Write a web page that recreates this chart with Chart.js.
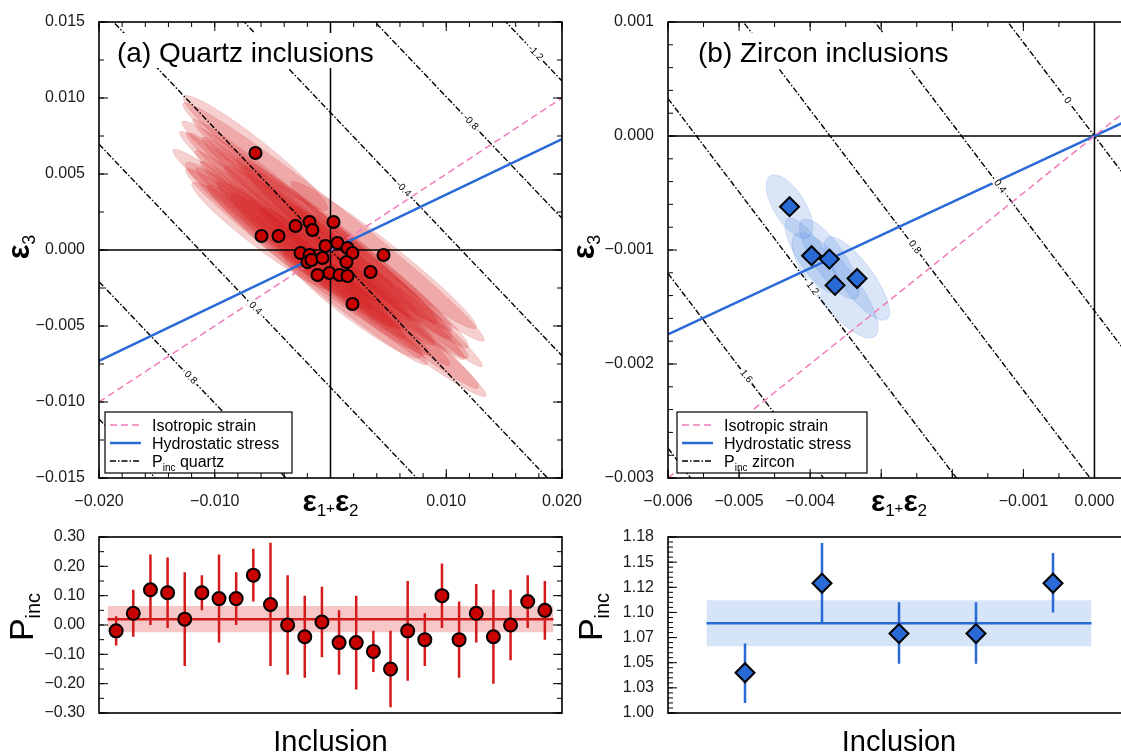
<!DOCTYPE html>
<html>
<head>
<meta charset="utf-8">
<title>Pinc quartz and zircon inclusions</title>
<script src="https://cdn.jsdelivr.net/npm/chart.js@4.4.1/dist/chart.umd.min.js"></script>
<style>
  html, body { margin: 0; padding: 0; background: #fff; width: 1121px; height: 755px; overflow: hidden; }
  .box { position: absolute; }
</style>
</head>
<body>
<div class="box" style="left:0px;top:0px"><canvas id="qzStrain" width="600" height="525"></canvas></div>
<div class="box" style="left:560px;top:0px"><canvas id="zrStrain" width="620" height="525"></canvas></div>
<div class="box" style="left:0px;top:520px"><canvas id="qzP" width="600" height="235"></canvas></div>
<div class="box" style="left:560px;top:520px"><canvas id="zrP" width="620" height="235"></canvas></div>

<script>
var FONT = '"Liberation Sans", Arial, Helvetica, sans-serif';
var MINUS = '\u2212';
var PINK = '#f07cbc';
var BLUE = '#2a6ad6';
var RED = '#c80000';

// ---- (a) quartz inclusions: strain of each inclusion ----
var qzE12 = [-0.00648, -0.00596, -0.00449, -0.00302, -0.00181, -0.00156, 0.00026, -0.00043, 0.00060, 0.00147, 0.00190, 0.00458,
             -0.00259, -0.00181, -0.00199, -0.00164, -0.00069, 0.00138, -0.00112, -0.00009, 0.00078, 0.00147, 0.00346, 0.00190];
var qzE3  = [0.00638, 0.00092, 0.00092, 0.00158, 0.00184, 0.00132, 0.00184, 0.00026, 0.00046, 0.00013, -0.00020, -0.00033,
             -0.00020, -0.00033, -0.00079, -0.00066, -0.00053, -0.00079, -0.00164, -0.00151, -0.00164, -0.00171, -0.00145, -0.00355];
// uncertainty ellipses: half length (along e1+e2), slope of the long axis, vertical half width
var qzEllLen = [0.0062, 0.0060, 0.0080, 0.0100, 0.0110, 0.0095, 0.0130, 0.0120, 0.0125, 0.0090, 0.0100, 0.0080,
                0.0090, 0.0080, 0.0105, 0.0070, 0.0110, 0.0105, 0.0095, 0.0135, 0.0120, 0.0075, 0.0070, 0.0060];
var qzEllSlope = [-0.60, -0.58, -0.60, -0.62, -0.60, -0.64, -0.60, -0.62, -0.65, -0.60, -0.62, -0.60,
                  -0.62, -0.60, -0.58, -0.62, -0.64, -0.60, -0.62, -0.60, -0.62, -0.60, -0.62, -0.58];
var qzEllHw = [0.0011, 0.0010, 0.0012, 0.0011, 0.0012, 0.0010, 0.0013, 0.0012, 0.0011, 0.0010, 0.0012, 0.0011,
               0.0010, 0.0011, 0.0012, 0.0010, 0.0011, 0.0012, 0.0011, 0.0013, 0.0012, 0.0010, 0.0011, 0.0012];
// Pinc isolines (GPa), where each crosses e3 = 0, and where its label sits
var qzLevels = [-1.2, -0.8, -0.4, 0, 0.4, 0.8, 1.2];
var qzLevelCross = [0.0339, 0.0226, 0.0113, 0, -0.0113, -0.0226, -0.0339];
var qzLevelLabelAt = [0.0177, 0.0121, 0.0063, null, -0.0065, -0.0121, null];
var qzContourSlope = -0.8;
var qzIsoSlope = 0.5;
var qzHydroSlope = 0.365;
var qzXTicks = [-0.020, -0.010, 0.010, 0.020];
var qzYTicks = [0.015, 0.010, 0.005, 0.000, -0.005, -0.010, -0.015];

// ---- (b) zircon inclusions ----
var zrE12 = [-0.00429, -0.00398, -0.00373, -0.00365, -0.00334];
var zrE3  = [-0.00062, -0.00105, -0.00108, -0.00131, -0.00125];
var zrEllLen = [0.00027, 0.00034, 0.00038, 0.00056, 0.00042];
var zrEllSlope = [-1.00, -0.95, -0.90, -0.80, -0.85];
var zrEllHw = [0.00026, 0.00022, 0.00024, 0.00030, 0.00024];
var zrLevels = [0, 0.4, 0.8, 1.2, 1.6, 2.0];
var zrLevelCross = [0, -0.00187, -0.00372, -0.00560, -0.00747, -0.00934];
var zrLevelLabelAt = [-0.00038, -0.00133, -0.00253, -0.00397, -0.00490, null];
var zrContourSlope = -0.82;
var zrIsoSlope = 0.5;
var zrHydroSlope = 0.29;
var zrXTicks = [-0.006, -0.005, -0.004, -0.001, 0.000];
var zrYTicks = [0.001, 0.000, -0.001, -0.002, -0.003];

// ---- Pinc per inclusion ----
var qzIncl = [1, 2, 3, 4, 5, 6, 7, 8, 9, 10, 11, 12, 13, 14, 15, 16, 17, 18, 19, 20, 21, 22, 23, 24, 25, 26];
var qzPinc = [-0.02, 0.04, 0.12, 0.11, 0.02, 0.11, 0.09, 0.09, 0.17, 0.07, 0.00, -0.04, 0.01,
              -0.06, -0.06, -0.09, -0.15, -0.02, -0.05, 0.10, -0.05, 0.04, -0.04, 0.00, 0.08, 0.05];
var qzPhi  = [0.03, 0.12, 0.24, 0.23, 0.18, 0.17, 0.24, 0.18, 0.26, 0.28, 0.17, 0.10, 0.13,
              0.05, 0.10, -0.02, -0.02, 0.15, 0.04, 0.21, 0.08, 0.14, 0.12, 0.12, 0.17, 0.15];
var qzPlo  = [-0.07, -0.04, 0.00, -0.01, -0.14, 0.05, -0.06, 0.00, 0.08, -0.14, -0.17, -0.18, -0.11,
              -0.17, -0.22, -0.16, -0.28, -0.19, -0.14, -0.01, -0.18, -0.06, -0.20, -0.12, -0.01, -0.05];
var qzMean = [0.020, -0.025, 0.065];   // mean, lower, upper
var qzPTicks = [0.30, 0.20, 0.10, 0.00, -0.10, -0.20, -0.30];

var zrIncl = [1, 2, 3, 4, 5];
var zrPinc = [1.040, 1.129, 1.079, 1.079, 1.129];
var zrPhi  = [1.069, 1.169, 1.110, 1.110, 1.159];
var zrPlo  = [1.010, 1.090, 1.049, 1.049, 1.100];
var zrMean = [1.0893, 1.0663, 1.1120];
var zrPTicks = [1.175, 1.150, 1.125, 1.100, 1.075, 1.050, 1.025, 1.000];
var zrPTickText = ['1.18', '1.15', '1.12', '1.10', '1.07', '1.05', '1.03', '1.00'];


Chart.defaults.font.family = FONT;
Chart.defaults.font.size = 16;
Chart.defaults.color = '#1a1a1a';

function fmt(v, d) {
  if (Math.abs(v) < 1e-12) v = 0;
  return (v < 0 ? MINUS : '') + Math.abs(v).toFixed(d);
}

// tick mark positions between a and b
function steps(a, b, step) {
  var out = [];
  var n = Math.round((b - a) / step);
  for (var i = 0; i <= n; i++) out.push(a + i * step);
  return out;
}

function lineSet(data, color, width, dash, order) {
  return { data: data, showLine: true, pointRadius: 0, borderColor: color, borderWidth: width,
           borderDash: dash, fill: false, order: order };
}

// text made of pieces (for subscripts)
function rich(ctx, x, y, pieces, align) {
  var w = 0;
  pieces.forEach(function(p) {
    ctx.font = (p.bold ? 'bold ' : '') + p.size + 'px ' + FONT;
    p.w = ctx.measureText(p.t).width;
    w += p.w;
  });
  var cx = align === 'left' ? x : x - w / 2;
  ctx.textAlign = 'left';
  ctx.textBaseline = 'alphabetic';
  pieces.forEach(function(p) {
    ctx.font = (p.bold ? 'bold ' : '') + p.size + 'px ' + FONT;
    ctx.fillText(p.t, cx, y + (p.dy || 0));
    cx += p.w;
  });
}

function drawLegend(ctx, bx, by, bw, bh, rows) {
  ctx.save();
  ctx.fillStyle = '#fff';
  ctx.fillRect(bx, by, bw, bh);
  ctx.strokeStyle = '#000';
  ctx.lineWidth = 1.2;
  ctx.strokeRect(bx, by, bw, bh);
  rows.forEach(function(r, i) {
    var y = by + 13 + i * 18;
    ctx.beginPath();
    ctx.strokeStyle = r.color;
    ctx.lineWidth = r.width;
    ctx.setLineDash(r.dash);
    ctx.moveTo(bx + 5, y);
    ctx.lineTo(bx + 36, y);
    ctx.stroke();
    ctx.setLineDash([]);
    ctx.fillStyle = '#000';
    rich(ctx, bx + 47, y + 6, r.text, 'left');
  });
  ctx.restore();
}

function decor(o) {
  return {
    id: 'decor',
    beforeDatasetsDraw: function(chart) {
      if (!o.ellipses) return;
      var ctx = chart.ctx, xs = chart.scales.x, ys = chart.scales.y, a = chart.chartArea;
      ctx.save();
      ctx.beginPath();
      ctx.rect(a.left, a.top, a.right - a.left, a.bottom - a.top);
      ctx.clip();
      var el = o.ellipses;
      for (var i = 0; i < el.x.length; i++) {
        var cx = xs.getPixelForValue(el.x[i]), cy = ys.getPixelForValue(el.y[i]);
        var tx = xs.getPixelForValue(el.x[i] + el.len[i]);
        var ty = ys.getPixelForValue(el.y[i] + el.slope[i] * el.len[i]);
        var ang = Math.atan2(ty - cy, tx - cx);
        var rx = Math.hypot(tx - cx, ty - cy);
        var ry = Math.abs(ys.getPixelForValue(el.y[i] + el.hw[i]) - cy) * Math.cos(ang);
        ctx.beginPath();
        ctx.ellipse(cx, cy, rx, ry, ang, 0, Math.PI * 2);
        ctx.fillStyle = el.fill;
        ctx.fill();
        ctx.strokeStyle = el.edge;
        ctx.lineWidth = 0.8;
        ctx.stroke();
      }
      ctx.restore();
    },
    afterDatasetsDraw: function(chart) {
      var ctx = chart.ctx, xs = chart.scales.x, ys = chart.scales.y, a = chart.chartArea;
      ctx.save();
      // isoline labels
      if (o.contours) {
        var c = o.contours;
        c.levels.forEach(function(lv, i) {
          var at = c.labelAt[i];
          if (at === null) return;
          var px = xs.getPixelForValue(at), py = ys.getPixelForValue(c.slope * (at - c.cross[i]));
          var qx = xs.getPixelForValue(at + 0.001), qy = ys.getPixelForValue(c.slope * (at + 0.001 - c.cross[i]));
          var ang = Math.atan2(qy - py, qx - px);
          var t = lv < 0 ? '-' + Math.abs(lv).toFixed(1) : (lv === 0 ? '0' : lv.toFixed(1));
          ctx.save();
          ctx.translate(px, py);
          ctx.rotate(ang);
          ctx.font = '10px ' + FONT;
          var w = ctx.measureText(t).width;
          ctx.fillStyle = '#fff';
          ctx.fillRect(-w / 2 - 2, -4, w + 4, 8);
          ctx.fillStyle = '#000';
          ctx.textAlign = 'center';
          ctx.textBaseline = 'middle';
          ctx.fillText(t, 0, 0);
          ctx.restore();
        });
      }
      // panel title on a white patch
      if (o.title) {
        ctx.fillStyle = '#fff';
        ctx.fillRect(a.left + o.title.box[0], a.top + 11, o.title.box[1], 35);
        ctx.fillStyle = '#000';
        ctx.font = '28px ' + FONT;
        ctx.textAlign = 'left';
        ctx.textBaseline = 'alphabetic';
        ctx.fillText(o.title.text, a.left + o.title.dx, a.top + 40);
      }
      if (o.legend) {
        drawLegend(ctx, a.left + o.legend.dx, a.bottom - 66, o.legend.w, 61, o.legend.rows);
      }
      // frame
      ctx.strokeStyle = '#000';
      ctx.lineWidth = 1.6;
      ctx.strokeRect(a.left, a.top, a.right - a.left, a.bottom - a.top);
      // inward ticks on all four sides
      ctx.lineWidth = 1;
      ctx.beginPath();
      function tk(vals, len, horiz) {
        vals.forEach(function(v) {
          if (horiz) {
            var p = xs.getPixelForValue(v);
            ctx.moveTo(p, a.bottom); ctx.lineTo(p, a.bottom - len);
            ctx.moveTo(p, a.top); ctx.lineTo(p, a.top + len);
          } else {
            var q = ys.getPixelForValue(v);
            ctx.moveTo(a.left, q); ctx.lineTo(a.left + len, q);
            ctx.moveTo(a.right, q); ctx.lineTo(a.right - len, q);
          }
        });
      }
      if (o.ticks.xMinor) tk(o.ticks.xMinor, 5, true);
      if (o.ticks.xMajor) tk(o.ticks.xMajor, 9, true);
      if (o.ticks.yMinor) tk(o.ticks.yMinor, 5, false);
      if (o.ticks.yMajor) tk(o.ticks.yMajor, 9, false);
      ctx.stroke();
      ctx.restore();
    },
    afterDraw: function(chart) {
      var ctx = chart.ctx, a = chart.chartArea;
      var mx = (a.left + a.right) / 2, my = (a.top + a.bottom) / 2;
      ctx.save();
      ctx.fillStyle = '#000';
      // y title, rotated
      ctx.save();
      ctx.translate(a.left + o.yTitle.dx, my + (o.yTitle.dy || 0));
      ctx.rotate(-Math.PI / 2);
      rich(ctx, 0, 0, o.yTitle.pieces, 'center');
      ctx.restore();
      // x title
      rich(ctx, mx, a.bottom + o.xTitle.dy, o.xTitle.pieces, 'center');
      ctx.restore();
    }
  };
}

function eps3() {
  return [{ t: '\u03b5', size: 31, bold: true }, { t: '3', size: 18, dy: 6 }];
}
function eps12() {
  return [{ t: '\u03b5', size: 30, bold: true }, { t: '1', size: 17, dy: 5 }, { t: '+', size: 15, dy: 2 },
          { t: '\u03b5', size: 30, bold: true }, { t: '2', size: 17, dy: 5 }];
}
function pinc() {
  return [{ t: 'P', size: 34 }, { t: 'inc', size: 20, dy: 7 }];
}

function strainChart(id, o) {
  var pts = o.xs.map(function(x, i) { return { x: x, y: o.ys[i] }; });
  var sets = [];
  sets.push({ data: pts, showLine: false, pointStyle: o.pointStyle, pointRadius: o.r, pointHoverRadius: o.r,
              pointBackgroundColor: o.fill, pointBorderColor: '#000', pointBorderWidth: 2, order: 0 });
  sets.push(lineSet([{ x: o.xmin, y: o.iso * o.xmin }, { x: o.xmax, y: o.iso * o.xmax }], PINK, 1.5, [7, 4], 1));
  sets.push(lineSet([{ x: o.xmin, y: o.hydro * o.xmin }, { x: o.xmax, y: o.hydro * o.xmax }], BLUE, 2.5, [], 1));
  o.contours.levels.forEach(function(lv, i) {
    var c = o.contours.cross[i], s = o.contours.slope;
    sets.push(lineSet([{ x: o.xmin, y: s * (o.xmin - c) }, { x: o.xmax, y: s * (o.xmax - c) }], '#000', 1.4, [6, 2, 1.5, 2], 2));
  });
  sets.push(lineSet([{ x: o.xmin, y: 0 }, { x: o.xmax, y: 0 }], '#000', 1.5, [], 3));
  sets.push(lineSet([{ x: 0, y: o.ymin }, { x: 0, y: o.ymax }], '#000', 1.5, [], 3));

  return new Chart(document.getElementById(id), {
    type: 'scatter',
    data: { datasets: sets },
    options: {
      responsive: false, animation: false, devicePixelRatio: 1,
      layout: { padding: { top: 22, right: o.padRight, bottom: 7, left: 0 } },
      plugins: { legend: { display: false }, tooltip: { enabled: false } },
      scales: {
        x: {
          type: 'linear', min: o.xmin, max: o.xmax,
          grid: { display: false }, border: { display: false },
          afterFit: function(s) { s.height = 40; },
          afterBuildTicks: function(s) { s.ticks = o.xLabels.map(function(v) { return { value: v }; }); },
          ticks: { padding: 6, maxRotation: 0, autoSkip: false, callback: function(v) { return fmt(v, 3); } }
        },
        y: {
          type: 'linear', min: o.ymin, max: o.ymax,
          grid: { display: false }, border: { display: false },
          afterFit: function(s) { s.width = o.yWidth; },
          afterBuildTicks: function(s) { s.ticks = o.yLabels.map(function(v) { return { value: v }; }); },
          ticks: { padding: 6, autoSkip: false, callback: function(v) { return fmt(v, 3); } }
        }
      }
    },
    plugins: [decor(o.decor)]
  });
}

function pincChart(id, o) {
  var pts = o.incl.map(function(x, i) { return { x: x, y: o.p[i] }; });
  var bars = [];
  o.incl.forEach(function(x, i) {
    bars.push({ x: x, y: o.lo[i] }, { x: x, y: o.hi[i] }, { x: x, y: null });
  });
  var x0 = o.incl[0] - 0.5, x1 = o.incl[o.incl.length - 1] + 0.5;
  var sets = [
    { data: pts, showLine: false, pointStyle: o.pointStyle, pointRadius: o.r, pointHoverRadius: o.r,
      pointBackgroundColor: o.fill, pointBorderColor: '#000', pointBorderWidth: 2, order: 0 },
    lineSet(bars, o.color, 2.5, [], 1),
    lineSet([{ x: x0, y: o.mean[0] }, { x: x1, y: o.mean[0] }], o.color, 2.5, [], 2),
    { data: [{ x: x0, y: o.mean[2] }, { x: x1, y: o.mean[2] }], showLine: true, pointRadius: 0, borderWidth: 0,
      fill: '+1', backgroundColor: o.band, order: 3 },
    { data: [{ x: x0, y: o.mean[1] }, { x: x1, y: o.mean[1] }], showLine: true, pointRadius: 0, borderWidth: 0,
      fill: false, order: 4 }
  ];
  return new Chart(document.getElementById(id), {
    type: 'scatter',
    data: { datasets: sets },
    options: {
      responsive: false, animation: false, devicePixelRatio: 1, spanGaps: false,
      layout: { padding: { top: 17, right: o.padRight, bottom: 42, left: 0 } },
      plugins: { legend: { display: false }, tooltip: { enabled: false } },
      scales: {
        x: { type: 'linear', display: false, min: 0, max: o.incl.length + 1 },
        y: {
          type: 'linear', min: o.ymin, max: o.ymax,
          grid: { display: false }, border: { display: false },
          afterFit: function(s) { s.width = o.yWidth; },
          afterBuildTicks: function(s) { s.ticks = o.yLabels.map(function(v) { return { value: v }; }); },
          ticks: { padding: 6, autoSkip: false, callback: o.fmt }
        }
      }
    },
    plugins: [decor(o.decor)]
  });
}

// (a) quartz, strain space
strainChart('qzStrain', {
  xs: qzE12, ys: qzE3, pointStyle: 'circle', r: 6, fill: RED,
  xmin: -0.02, xmax: 0.02, ymin: -0.015, ymax: 0.015, yWidth: 99, padRight: 38,
  iso: qzIsoSlope, hydro: qzHydroSlope, xLabels: qzXTicks, yLabels: qzYTicks,
  contours: { levels: qzLevels, cross: qzLevelCross, slope: qzContourSlope },
  decor: {
    ellipses: { x: qzE12, y: qzE3, len: qzEllLen, slope: qzEllSlope, hw: qzEllHw,
                fill: 'rgba(214,30,30,0.21)', edge: 'rgba(200,40,40,0.18)' },
    contours: { levels: qzLevels, cross: qzLevelCross, slope: qzContourSlope, labelAt: qzLevelLabelAt },
    title: { text: '(a) Quartz inclusions', dx: 18, box: [10, 273] },
    legend: { dx: 6, w: 187, rows: [
      { color: PINK, width: 1.5, dash: [7, 4], text: [{ t: 'Isotropic strain', size: 16 }] },
      { color: BLUE, width: 2.5, dash: [], text: [{ t: 'Hydrostatic stress', size: 16 }] },
      { color: '#000', width: 1.4, dash: [6, 2, 1.5, 2], text: [{ t: 'P', size: 16 }, { t: 'inc', size: 10, dy: 4 }, { t: ' quartz', size: 16 }] }
    ] },
    ticks: { xMinor: steps(-0.02, 0.02, 0.002), xMajor: steps(-0.02, 0.02, 0.01),
             yMinor: steps(-0.015, 0.015, 0.0025), yMajor: steps(-0.015, 0.015, 0.005) },
    yTitle: { dx: -70, dy: -3, pieces: eps3() },
    xTitle: { dy: 33, pieces: eps12() }
  }
});

// (b) zircon, strain space
strainChart('zrStrain', {
  xs: zrE12, ys: zrE3, pointStyle: 'rectRot', r: 9.5, fill: BLUE,
  xmin: -0.006, xmax: 0.0005, ymin: -0.003, ymax: 0.001, yWidth: 108, padRight: 50,
  iso: zrIsoSlope, hydro: zrHydroSlope, xLabels: zrXTicks, yLabels: zrYTicks,
  contours: { levels: zrLevels, cross: zrLevelCross, slope: zrContourSlope },
  decor: {
    ellipses: { x: zrE12, y: zrE3, len: zrEllLen, slope: zrEllSlope, hw: zrEllHw,
                fill: 'rgba(70,130,220,0.2)', edge: 'rgba(70,130,220,0.25)' },
    contours: { levels: zrLevels, cross: zrLevelCross, slope: zrContourSlope, labelAt: zrLevelLabelAt },
    title: { text: '(b) Zircon inclusions', dx: 30, box: [20, 280] },
    legend: { dx: 9, w: 190, rows: [
      { color: PINK, width: 1.5, dash: [7, 4], text: [{ t: 'Isotropic strain', size: 16 }] },
      { color: BLUE, width: 2.5, dash: [], text: [{ t: 'Hydrostatic stress', size: 16 }] },
      { color: '#000', width: 1.4, dash: [6, 2, 1.5, 2], text: [{ t: 'P', size: 16 }, { t: 'inc', size: 10, dy: 4 }, { t: ' zircon', size: 16 }] }
    ] },
    ticks: { xMinor: steps(-0.006, 0.0005, 0.0005), xMajor: steps(-0.006, 0, 0.001),
             yMinor: steps(-0.003, 0.001, 0.0002), yMajor: steps(-0.003, 0.001, 0.001) },
    yTitle: { dx: -74, dy: -3, pieces: eps3() },
    xTitle: { dy: 33, pieces: eps12() }
  }
});

// Pinc of each quartz inclusion
pincChart('qzP', {
  incl: qzIncl, p: qzPinc, lo: qzPlo, hi: qzPhi, mean: qzMean,
  pointStyle: 'circle', r: 6.5, fill: RED, color: '#d41a1a', band: 'rgba(228,70,70,0.3)',
  ymin: -0.30, ymax: 0.30, yWidth: 99, padRight: 38, yLabels: qzPTicks,
  fmt: function(v) { return fmt(v, 2); },
  decor: {
    ticks: { yMinor: steps(-0.30, 0.30, 0.05), yMajor: steps(-0.30, 0.30, 0.10) },
    yTitle: { dx: -66, dy: -8, pieces: pinc() },
    xTitle: { dy: 38, pieces: [{ t: 'Inclusion', size: 29 }] }
  }
});

// Pinc of each zircon inclusion
pincChart('zrP', {
  incl: zrIncl, p: zrPinc, lo: zrPlo, hi: zrPhi, mean: zrMean,
  pointStyle: 'rectRot', r: 9.5, fill: BLUE, color: BLUE, band: 'rgba(70,130,220,0.22)',
  ymin: 1.00, ymax: 1.175, yWidth: 108, padRight: 50, yLabels: zrPTicks,
  fmt: function(v) { return zrPTickText[zrPTicks.indexOf(v)]; },
  decor: {
    ticks: { yMinor: steps(1.00, 1.175, 0.005), yMajor: steps(1.00, 1.175, 0.025) },
    yTitle: { dx: -66, dy: -8, pieces: pinc() },
    xTitle: { dy: 38, pieces: [{ t: 'Inclusion', size: 29 }] }
  }
});
</script>
</body>
</html>
